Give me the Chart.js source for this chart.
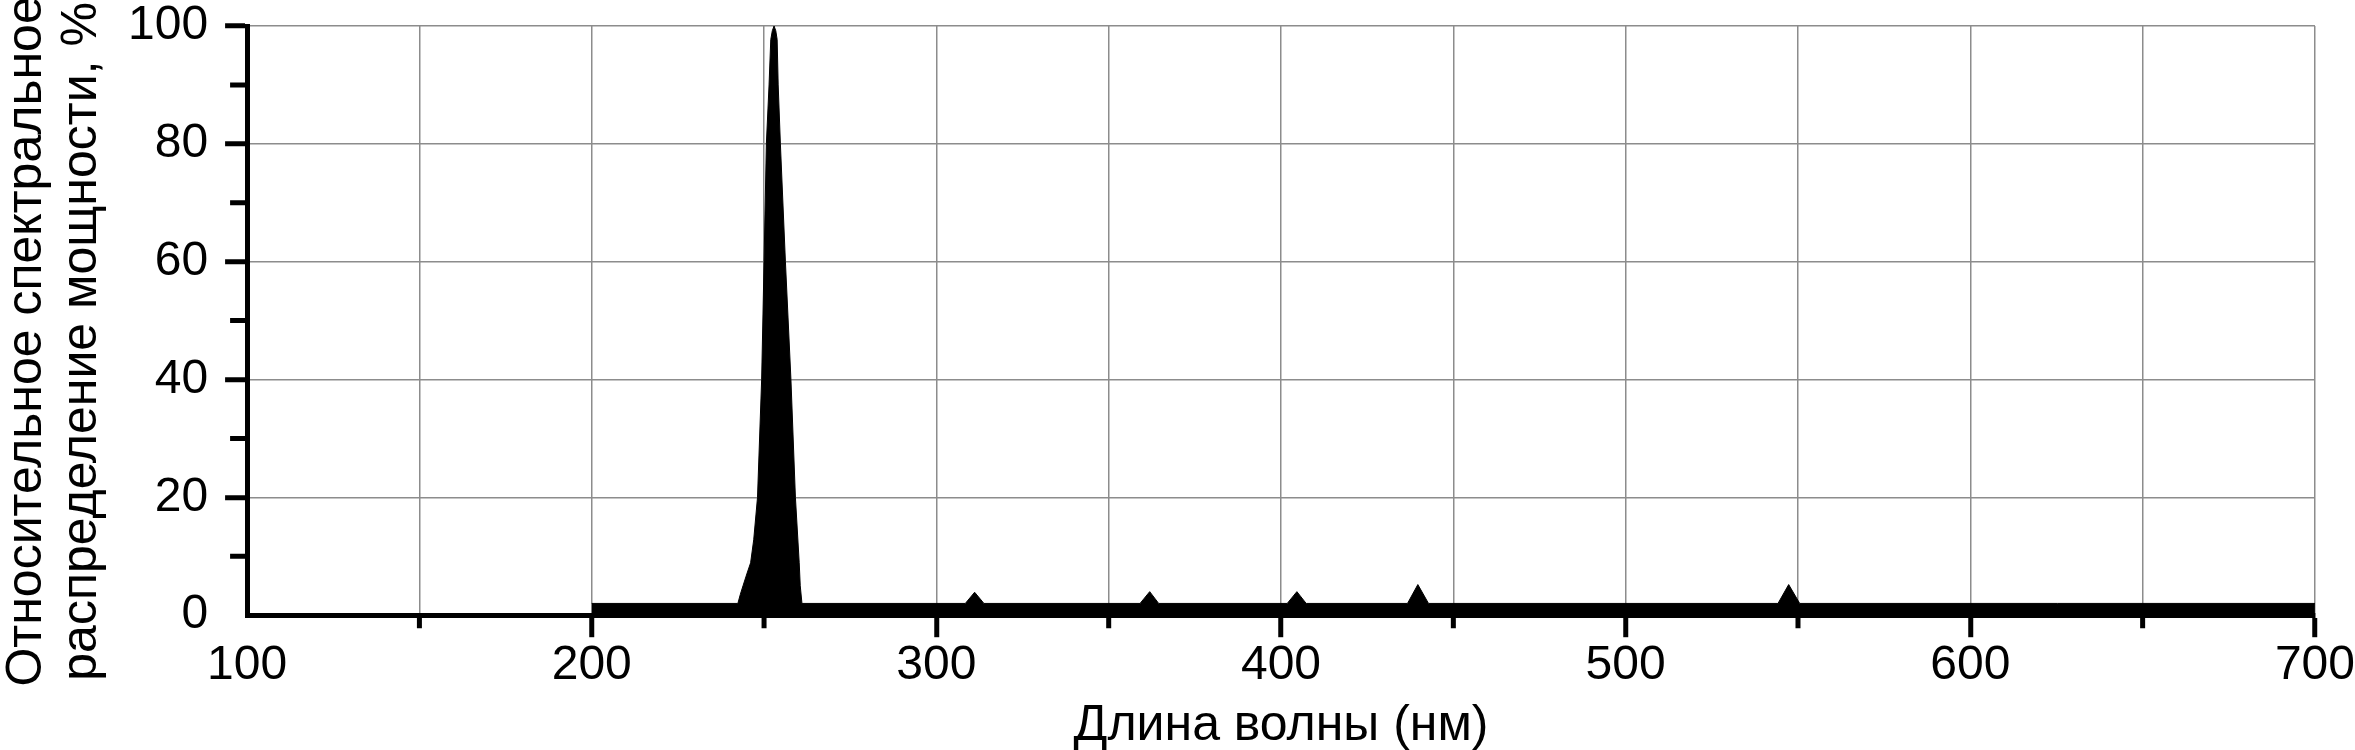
<!DOCTYPE html>
<html>
<head>
<meta charset="utf-8">
<script src="https://cdn.jsdelivr.net/npm/chart.js@4/dist/chart.umd.min.js"></script>
<style>
  html, body { margin: 0; padding: 0; background: #fff; }
  #wrap { width: 2355px; height: 750px; }
</style>
</head>
<body>
<div id="wrap"><canvas id="c" width="2355" height="750"></canvas></div>
<script>
// Wavelength, nm
const wavelengthNm = [
  200, 242.4, 243.1, 243.9, 245.0, 246.1, 247.0, 248.1, 249.3, 250.0, 250.67, 251.45, 251.95,
  252.4, 252.9, 253.4, 253.8, 254.1, 254.74, 256.2, 257.8, 259.1, 260.2, 260.5, 261.0,
  308.4, 311.1, 313.8,
  359.1, 361.9, 364.5,
  401.8, 404.6, 407.3,
  436.7, 439.7, 442.8,
  544.2, 547.3, 550.5,
  700
];
// Relative spectral power distribution, %
const relativePower = [
  2, 2, 3.5, 5, 7, 8.9, 12.8, 20, 40, 60, 80, 90, 97.7,
  99.2, 100, 99.2, 97.7, 90, 80, 60, 40, 20, 8.9, 5, 2,
  2, 3.9, 2,
  2, 4.0, 2,
  2, 4.0, 2,
  2, 5.2, 2,
  2, 5.2, 2,
  2
];
const xMajorTicks = [100, 200, 300, 400, 500, 600, 700];
const xMinorTicks = [150, 250, 350, 450, 550, 650];
const yMajorTicks = [0, 20, 40, 60, 80, 100];
const yMinorTicks = [10, 30, 50, 70, 90];
const xTitle = 'Длина волны (нм)';
const yTitle = ['Относительное спектральное', 'распределение мощности, %'];

const FONT = "'Liberation Sans', Arial, sans-serif";
const GRID = '#8c8c8c';

const minorTicksPlugin = {
  id: 'minorTicks',
  afterDraw(chart) {
    const ctx = chart.ctx;
    const xs = chart.scales.x, ys = chart.scales.y;
    const area = chart.chartArea;
    ctx.save();
    ctx.strokeStyle = '#000';
    ctx.lineWidth = 5;
    ctx.beginPath();
    xMinorTicks.forEach(v => {
      const px = xs.getPixelForValue(v);
      ctx.moveTo(px, area.bottom);
      ctx.lineTo(px, area.bottom + 13);
    });
    yMinorTicks.forEach(v => {
      const py = ys.getPixelForValue(v);
      ctx.moveTo(area.left - 17, py);
      ctx.lineTo(area.left, py);
    });
    ctx.stroke();
    ctx.restore();
  }
};

const points = wavelengthNm.map((x, i) => ({ x: x, y: relativePower[i] }));

new Chart(document.getElementById('c'), {
  type: 'line',
  data: {
    datasets: [{
      data: points,
      borderColor: '#000',
      backgroundColor: '#000',
      borderWidth: 1,
      pointRadius: 0,
      tension: 0,
      fill: 'origin'
    }]
  },
  options: {
    responsive: false,
    animation: false,
    events: [],
    layout: { padding: { top: 26, right: 0, bottom: 0, left: 0 } },
    plugins: { legend: { display: false }, tooltip: { enabled: false } },
    scales: {
      x: {
        type: 'linear',
        min: 100,
        max: 700,
        border: { display: true, color: '#000', width: 5 },
        grid: {
          color: c => (c.tick && c.tick.value === 100) ? 'rgba(0,0,0,0)' : GRID,
          lineWidth: 1.5,
          tickLength: 22,
          tickWidth: 5,
          tickColor: c => (c.tick && xMajorTicks.includes(c.tick.value) && c.tick.value !== 100) ? '#000' : 'rgba(0,0,0,0)'
        },
        ticks: {
          stepSize: 50,
          autoSkip: false,
          maxRotation: 0,
          padding: 0,
          color: '#000',
          font: { family: FONT, size: 48, lineHeight: 1.183 },
          callback: v => xMajorTicks.includes(v) ? String(v) : ''
        },
        title: {
          display: true,
          text: xTitle,
          color: '#000',
          font: { family: FONT, size: 50, lineHeight: 1 },
          padding: { top: 7, bottom: -1 }
        }
      },
      y: {
        min: 0,
        max: 100,
        border: { display: true, color: '#000', width: 5 },
        grid: {
          color: c => (c.tick && yMajorTicks.includes(c.tick.value) && c.tick.value !== 0) ? GRID : 'rgba(0,0,0,0)',
          lineWidth: 1.5,
          tickLength: 22,
          tickWidth: 5,
          tickColor: c => (c.tick && yMajorTicks.includes(c.tick.value) && c.tick.value !== 0) ? '#000' : 'rgba(0,0,0,0)'
        },
        ticks: {
          stepSize: 10,
          autoSkip: false,
          padding: 17,
          color: '#000',
          font: { family: FONT, size: 48, lineHeight: 0.2 },
          callback: v => yMajorTicks.includes(v) ? String(v) : ''
        },
        title: {
          display: true,
          text: yTitle.map(s => s + '   '),
          color: '#000',
          font: { family: FONT, size: 50, lineHeight: 1.1 },
          padding: { top: 0, bottom: 1 }
        }
      }
    }
  },
  plugins: [minorTicksPlugin]
});
</script>
</body>
</html>
